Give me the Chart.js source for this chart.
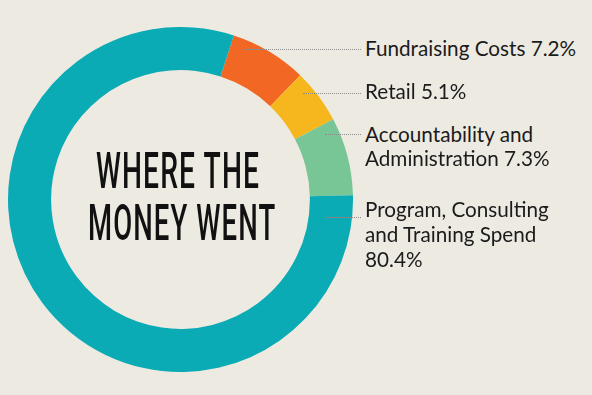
<!DOCTYPE html>
<html>
<head>
<meta charset="utf-8">
<script src="https://cdn.jsdelivr.net/npm/chart.js@4"></script>
<style>
  html, body { margin: 0; padding: 0; }
  body { width: 592px; height: 395px; background: #edeae2; position: relative; overflow: hidden; }
  #wrap { position: absolute; left: 8px; top: 27px; width: 345px; height: 345px; }
  .center { position: absolute; font-family: Roboto, "Liberation Sans Narrow", sans-serif;
    font-weight: 500; font-size: 50px; line-height: 50px; letter-spacing: 2px; color: #111;
    white-space: nowrap; transform-origin: left center; }
  .label { position: absolute; left: 365px; font-family: Lato, sans-serif; font-size: 20.7px;
    color: #1b1b1b; white-space: nowrap; }
  .leader { position: absolute; height: 0; border-top: 1px dotted #8c8c8c; }
</style>
</head>
<body>
<div id="wrap"><canvas id="donut"></canvas></div>
<div id="title"></div>
<div id="labels"></div>

<script>
// chart data
const categories = [
  "Fundraising Costs",
  "Retail",
  "Accountability and\nAdministration",
  "Program, Consulting\nand Training Spend\n",
];
const values = [7.2, 5.1, 7.3, 80.4];
const colors = ["#f26724", "#f5b71d", "#78c596", "#0aabb4"];
const titleLines = ["WHERE THE", "MONEY WENT"];

// label layout (top of first line, line height, leader start x)
const labelTops = [36, 79, 122, 197];
const lineHeights = [24, 24, 24.3, 25];
const leaderFrom = [243, 303, 325, 325];
const leaderY = [49, 93, 134, 217];

const ctx = document.getElementById("donut").getContext("2d");

new Chart(ctx, {
  type: "doughnut",
  data: {
    labels: categories.map((c) => c.replace(/\n/g, " ").trim()),
    datasets: [
      {
        data: values,
        backgroundColor: colors,
        borderWidth: 0,
      },
    ],
  },
  options: {
    animation: false,
    responsive: true,
    maintainAspectRatio: false,
    cutout: "75%",
    rotation: 18,
    layout: { padding: 0 },
    plugins: {
      legend: { display: false },
      tooltip: { enabled: false },
    },
  },
});

// centre title, squeezed to the condensed look of the original
const title = document.getElementById("title");
const titleBaselines = [188, 240];
const titleLeft = [96, 88];
const titleWidths = [163, 187];
titleLines.forEach((t, i) => {
  let d = document.createElement("div");
  d.className = "center";
  d.innerText = t;
  title.appendChild(d);
  let w = d.offsetWidth - 2;
  d.style.left = titleLeft[i] + "px";
  d.style.top = titleBaselines[i] - 42 + "px";
  d.style.transform = `scaleX(${titleWidths[i] / w})`;
});

// labels and dotted leaders
const labelBox = document.getElementById("labels");
categories.forEach((c, i) => {
  let lines = c.split("\n");
  let last = lines.length - 1;
  lines[last] = (lines[last] ? lines[last] + " " : "") + values[i] + "%";
  lines.forEach((ln, j) => {
    let d = document.createElement("div");
    d.className = "label";
    d.style.top = labelTops[i] + j * lineHeights[i] + "px";
    d.style.lineHeight = lineHeights[i] + "px";
    d.innerText = ln;
    labelBox.appendChild(d);
  });
  let l = document.createElement("div");
  l.className = "leader";
  l.style.left = leaderFrom[i] + "px";
  l.style.width = 361 - leaderFrom[i] + "px";
  l.style.top = leaderY[i] + "px";
  labelBox.appendChild(l);
});
</script>
</body>
</html>
